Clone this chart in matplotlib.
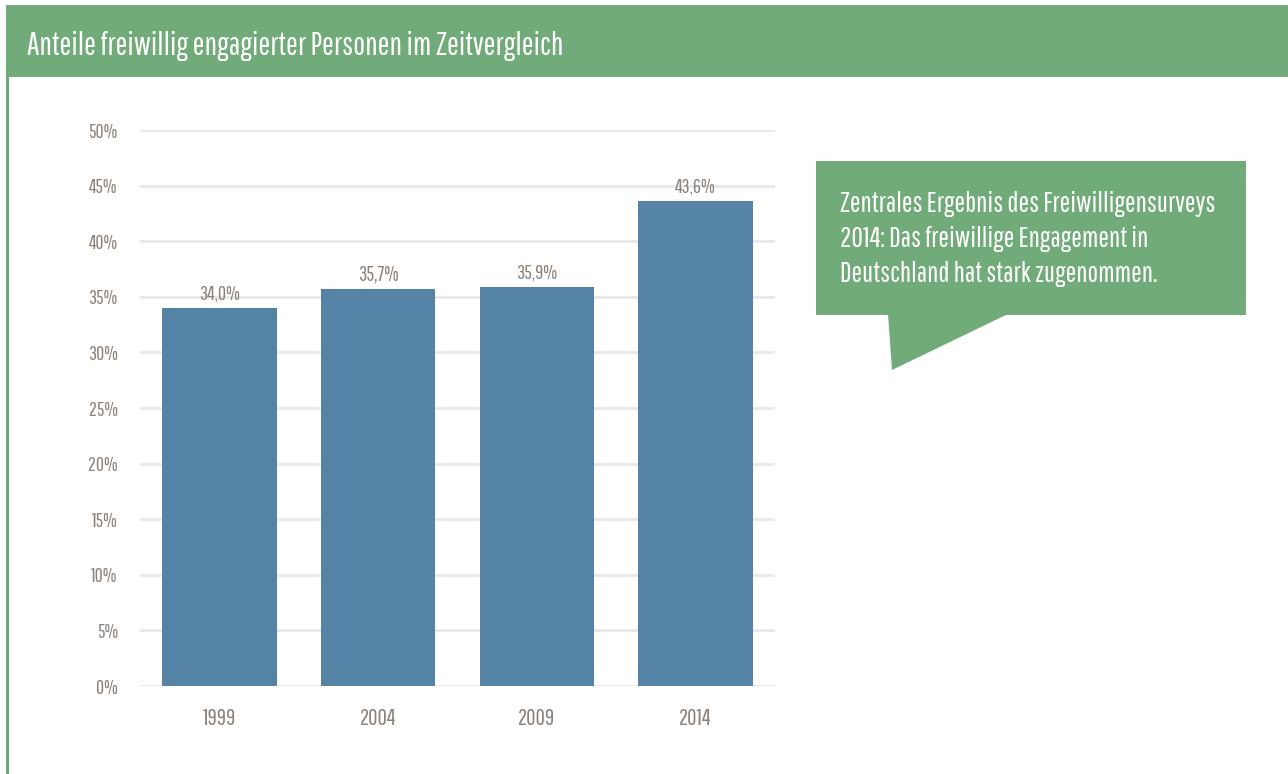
import matplotlib
matplotlib.use('Agg')
import matplotlib.pyplot as plt
from matplotlib.patches import Rectangle, Polygon
from matplotlib import font_manager

# Data
years = ['1999', '2004', '2009', '2014']
shares = [34.0, 35.7, 35.9, 43.6]
labels = ['34,0%', '35,7%', '35,9%', '43,6%']
yticks = [0, 5, 10, 15, 20, 25, 30, 35, 40, 45, 50]

title = 'Anteile freiwillig engagierter Personen im Zeitvergleich'
note = ('Zentrales Ergebnis des Freiwilligensurveys\n'
        '2014: Das freiwillige Engagement in\n'
        'Deutschland hat stark zugenommen.')

GREEN = '#72ab7a'
BLUE = '#5583a6'
GREY = '#8c8279'

names = {f.name for f in font_manager.fontManager.ttflist}
prefs = ['Pathway Gothic One', 'Barlow Condensed', 'Roboto Condensed', 'Oswald',
         'Archivo Narrow', 'Liberation Sans']
FONT = next((p for p in prefs if p in names), 'DejaVu Sans')
plt.rcParams['font.family'] = [FONT, 'DejaVu Sans']

W, H = 1288, 774
fig = plt.figure(figsize=(W / 100, H / 100), dpi=100)
renderer = fig.canvas.get_renderer()


def px(x, y):
    return (x / W, 1 - y / H)


def fit(t, width):
    # scale the font so the text spans the width seen in the reference
    bb = t.get_window_extent(renderer)
    t.set_fontsize(t.get_fontsize() * width / bb.width)


# frame: header band and left border
fig.add_artist(Rectangle(px(8, 77), (W - 8) / W, 72 / H, transform=fig.transFigure,
                         color=GREEN, lw=0))
fig.add_artist(Rectangle(px(6, H), 2.5 / W, (H - 5) / H, transform=fig.transFigure,
                         color=GREEN, lw=0))
t = fig.text(*px(27, 46), title, color='white', fontsize=19, va='center', ha='left')
fit(t, 536)

# callout
fig.add_artist(Rectangle(px(816, 315), 430 / W, 154 / H, transform=fig.transFigure,
                         color=GREEN, lw=0))
fig.add_artist(Polygon([px(888, 314), px(892, 370), px(1008, 314)], closed=True,
                       transform=fig.transFigure, color=GREEN, lw=0))
t = fig.text(*px(840, 239), note, color='white', fontsize=16.5, va='center', ha='left',
             linespacing=1.45)
fit(t, 376)

# bar chart
ax = fig.add_axes([140 / W, 1 - 686 / H, 635 / W, 556 / H])
x = range(len(years))
bars = ax.bar(x, shares, width=0.72, color=BLUE, zorder=3)
for b, lab in zip(bars, labels):
    t = ax.text(b.get_x() + b.get_width() / 2, b.get_height() + 0.4, lab,
                ha='center', va='bottom', color=GREY, fontsize=12)
    fit(t, 41)

ax.set_xlim(-0.5, 3.5)
ax.set_ylim(0, 50)
ax.set_yticks(yticks)
ax.set_yticklabels([f'{v}%' for v in yticks])
ax.set_xticks(list(x))
ax.set_xticklabels(years)
ax.grid(axis='y', color='#e8e8e8', lw=2, zorder=0)
ax.tick_params(length=0, colors=GREY, labelsize=12)
for s in ax.spines.values():
    s.set_visible(False)

lab = ax.get_yticklabels()[-1]
ys = 12 * 29 / lab.get_window_extent(renderer).width
lab = ax.get_xticklabels()[0]
xs = 12 * 33 / lab.get_window_extent(renderer).width
ax.tick_params(axis='y', labelsize=ys, pad=16)
ax.tick_params(axis='x', labelsize=xs, pad=16)

fig.savefig('out.png', dpi=100)
